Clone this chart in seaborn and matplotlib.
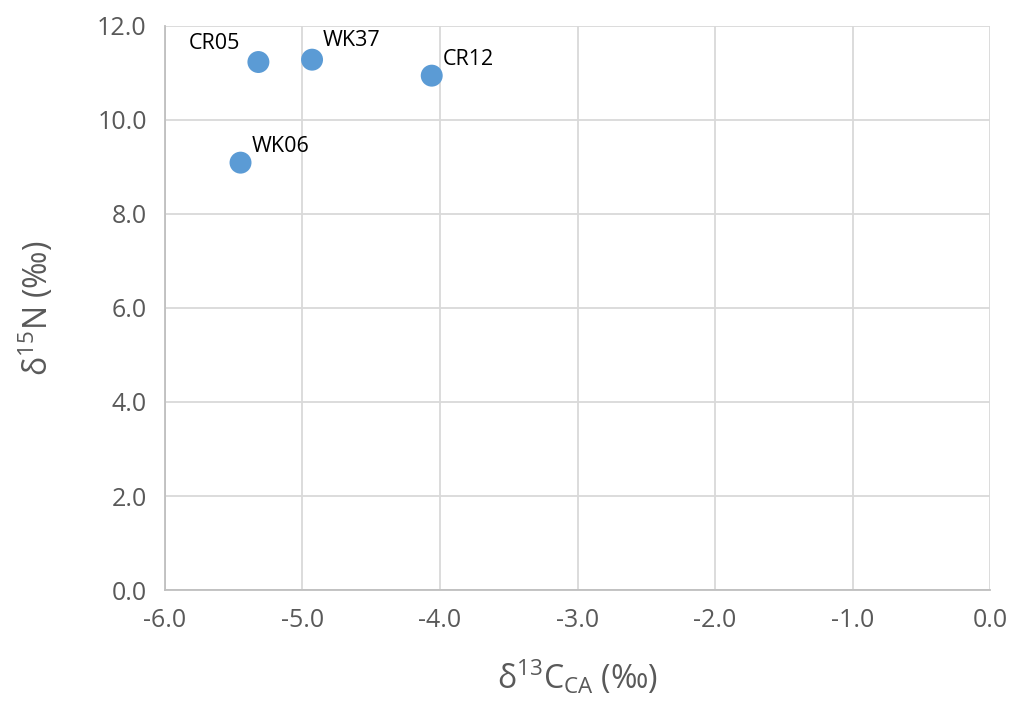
import matplotlib
matplotlib.use("Agg")
import matplotlib.pyplot as plt
import pandas as pd
import seaborn as sns

# data
samples = ["CR05", "WK37", "CR12", "WK06"]
d13c = [-5.32, -4.93, -4.06, -5.45]
d15n = [11.23, 11.28, 10.94, 9.09]

x_ticks = [-6.0, -5.0, -4.0, -3.0, -2.0, -1.0, 0.0]
y_ticks = [0.0, 2.0, 4.0, 6.0, 8.0, 10.0, 12.0]

POINT_COLOR = "#5B9BD5"
GRID_COLOR = "#D9D9D9"
TEXT_GRAY = "#595959"

sns.set_style("white")
plt.rcParams["font.family"] = ["Open Sans", "DejaVu Sans"]

df = pd.DataFrame({"sample": samples, "d13c": d13c, "d15n": d15n})

fig = plt.figure(figsize=(10.24, 7.17), dpi=100)
ax = fig.add_axes([0.161, 0.177, 0.806, 0.787])

sns.scatterplot(
    data=df, x="d13c", y="d15n", s=250, color=POINT_COLOR,
    edgecolor="none", ax=ax, zorder=3, clip_on=False,
)

# label offsets in points (CR05 sits left of its point)
offsets = {"CR05": (-50, 6), "WK37": (8, 6), "CR12": (8, 4), "WK06": (8, 4)}
for _, row in df.iterrows():
    ax.annotate(
        row["sample"], (row["d13c"], row["d15n"]),
        xytext=offsets[row["sample"]], textcoords="offset points",
        fontsize=15.5, color="black", va="bottom", ha="left",
    )

ax.set_xlim(-6, 0)
ax.set_ylim(0, 12)
ax.set_xticks(x_ticks)
ax.set_yticks(y_ticks)
ax.set_xticklabels([f"{v:.1f}" for v in x_ticks])
ax.set_yticklabels([f"{v:.1f}" for v in y_ticks])
ax.grid(True, color=GRID_COLOR, linewidth=1.3)
ax.set_axisbelow(True)

for side in ["top", "right"]:
    ax.spines[side].set_visible(False)
for side in ["left", "bottom"]:
    ax.spines[side].set_color("#BFBFBF")
    ax.spines[side].set_linewidth(1.3)

ax.tick_params(axis="both", which="both", length=5, width=1.3, color="#BFBFBF",
               labelsize=18, labelcolor=TEXT_GRAY, direction="out")
ax.tick_params(axis="x", pad=8)
ax.tick_params(axis="y", pad=8)

ax.set_xlabel(r"$\mathregular{\delta^{13}C_{CA}}$ (‰)", fontsize=23, color=TEXT_GRAY, labelpad=18)
ax.set_ylabel(r"$\mathregular{\delta^{15}N}$ (‰)", fontsize=23, color=TEXT_GRAY, labelpad=30)

fig.savefig("out.png", dpi=100)
